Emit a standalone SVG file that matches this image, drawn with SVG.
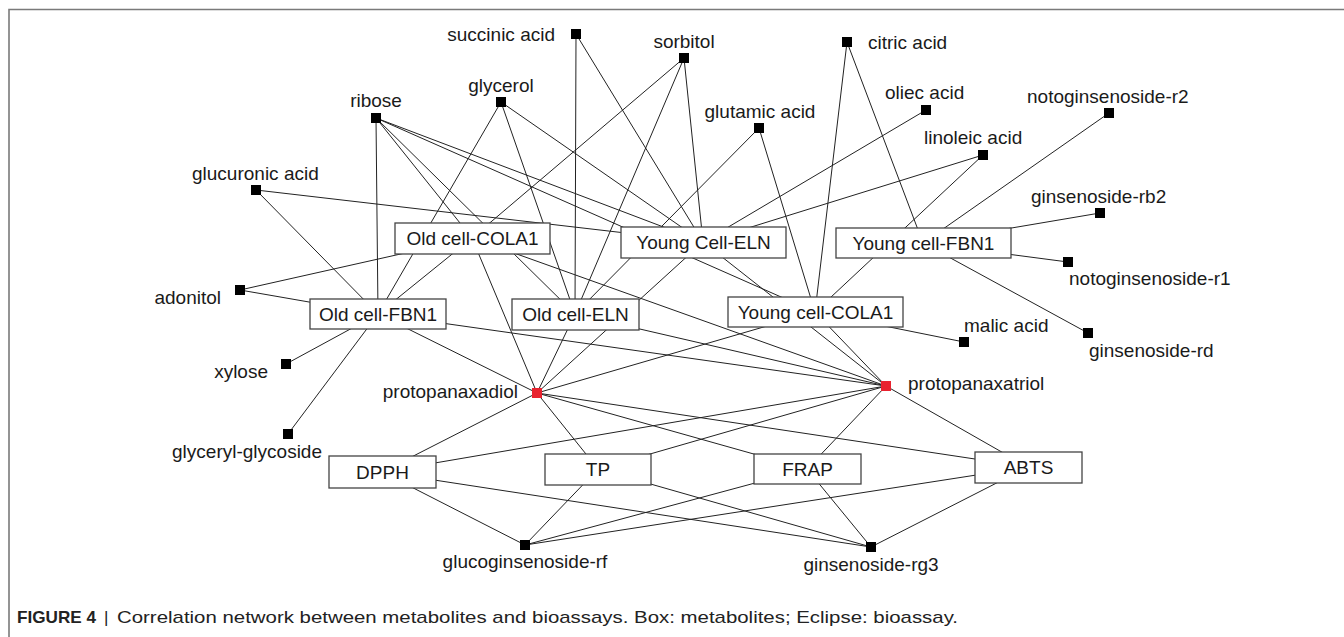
<svg xmlns="http://www.w3.org/2000/svg" width="1344" height="637" viewBox="0 0 1344 637">
<style>
.lbl{font-family:"Liberation Sans",Arial,sans-serif;font-size:19px;fill:#1a1a1a}
.box{fill:#fff;stroke:#444;stroke-width:1.3}
.sq{fill:#000}
.red{fill:#e8232f}
.edges line{stroke:#222;stroke-width:1}
.frame{stroke:#7a7a7a;stroke-width:1.6;fill:none}
.cap{font-family:"Liberation Sans",Arial,sans-serif;font-size:17px;fill:#222}
</style>
<rect width="1344" height="637" fill="#fff"/>
<path class="frame" d="M9,637 V9.5 H1344"/>
<g id="connectors" class="edges">
<line x1="576" y1="34" x2="575" y2="314"/>
<line x1="576" y1="34" x2="703" y2="242"/>
<line x1="684" y1="58" x2="472" y2="238"/>
<line x1="684" y1="58" x2="575" y2="314"/>
<line x1="684" y1="58" x2="703" y2="242"/>
<line x1="847" y1="42" x2="815" y2="312"/>
<line x1="847" y1="42" x2="923" y2="243"/>
<line x1="501" y1="102" x2="378" y2="314"/>
<line x1="501" y1="102" x2="575" y2="314"/>
<line x1="501" y1="102" x2="703" y2="242"/>
<line x1="376" y1="118" x2="378" y2="314"/>
<line x1="376" y1="118" x2="472" y2="238"/>
<line x1="376" y1="118" x2="575" y2="314"/>
<line x1="376" y1="118" x2="703" y2="242"/>
<line x1="376" y1="118" x2="815" y2="312"/>
<line x1="759" y1="128" x2="575" y2="314"/>
<line x1="759" y1="128" x2="815" y2="312"/>
<line x1="926" y1="110" x2="703" y2="242"/>
<line x1="1109" y1="113" x2="923" y2="243"/>
<line x1="983" y1="155" x2="703" y2="242"/>
<line x1="983" y1="155" x2="815" y2="312"/>
<line x1="256" y1="190" x2="378" y2="314"/>
<line x1="256" y1="190" x2="703" y2="242"/>
<line x1="1100" y1="213" x2="923" y2="243"/>
<line x1="1068" y1="262" x2="923" y2="243"/>
<line x1="1088" y1="333" x2="923" y2="243"/>
<line x1="240" y1="290" x2="472" y2="238"/>
<line x1="240" y1="290" x2="378" y2="314"/>
<line x1="964" y1="342" x2="815" y2="312"/>
<line x1="286" y1="364" x2="378" y2="314"/>
<line x1="288" y1="434" x2="378" y2="314"/>
<line x1="472" y1="238" x2="378" y2="314"/>
<line x1="472" y1="238" x2="537" y2="393"/>
<line x1="472" y1="238" x2="886" y2="386"/>
<line x1="378" y1="314" x2="537" y2="393"/>
<line x1="378" y1="314" x2="886" y2="386"/>
<line x1="575" y1="314" x2="537" y2="393"/>
<line x1="575" y1="314" x2="886" y2="386"/>
<line x1="703" y1="242" x2="537" y2="393"/>
<line x1="703" y1="242" x2="886" y2="386"/>
<line x1="815" y1="312" x2="537" y2="393"/>
<line x1="815" y1="312" x2="886" y2="386"/>
<line x1="537" y1="393" x2="382" y2="472"/>
<line x1="537" y1="393" x2="598" y2="469"/>
<line x1="537" y1="393" x2="807" y2="469"/>
<line x1="537" y1="393" x2="1028" y2="467"/>
<line x1="886" y1="386" x2="382" y2="472"/>
<line x1="886" y1="386" x2="598" y2="469"/>
<line x1="886" y1="386" x2="807" y2="469"/>
<line x1="886" y1="386" x2="1028" y2="467"/>
<line x1="525" y1="545" x2="382" y2="472"/>
<line x1="525" y1="545" x2="598" y2="469"/>
<line x1="525" y1="545" x2="807" y2="469"/>
<line x1="525" y1="545" x2="1028" y2="467"/>
<line x1="871" y1="547" x2="382" y2="472"/>
<line x1="871" y1="547" x2="598" y2="469"/>
<line x1="871" y1="547" x2="807" y2="469"/>
<line x1="871" y1="547" x2="1028" y2="467"/>
</g>

<g id="old-cell-cola1"><rect class="box" x="395" y="223" width="155" height="31"/><text class="lbl" x="472.5" y="245" text-anchor="middle">Old cell-COLA1</text></g>
<g id="old-cell-fbn1"><rect class="box" x="310" y="299" width="136" height="30"/><text class="lbl" x="378" y="321" text-anchor="middle">Old cell-FBN1</text></g>
<g id="old-cell-eln"><rect class="box" x="512" y="299" width="127" height="31"/><text class="lbl" x="575.5" y="321" text-anchor="middle">Old cell-ELN</text></g>
<g id="young-cell-eln"><rect class="box" x="621" y="227" width="165" height="31"/><text class="lbl" x="703.5" y="249" text-anchor="middle">Young Cell-ELN</text></g>
<g id="young-cell-fbn1"><rect class="box" x="836" y="228" width="175" height="30"/><text class="lbl" x="923.5" y="250" text-anchor="middle">Young cell-FBN1</text></g>
<g id="young-cell-cola1"><rect class="box" x="728" y="297" width="175" height="30"/><text class="lbl" x="815.5" y="319" text-anchor="middle">Young cell-COLA1</text></g>
<g id="dpph"><rect class="box" x="329" y="456" width="107" height="32"/><text class="lbl" x="382.5" y="479" text-anchor="middle">DPPH</text></g>
<g id="tp"><rect class="box" x="545" y="454" width="106" height="31"/><text class="lbl" x="598" y="476" text-anchor="middle">TP</text></g>
<g id="frap"><rect class="box" x="754" y="454" width="107" height="30"/><text class="lbl" x="807.5" y="476" text-anchor="middle">FRAP</text></g>
<g id="abts"><rect class="box" x="975" y="452" width="107" height="31"/><text class="lbl" x="1028.5" y="474" text-anchor="middle">ABTS</text></g>

<g id="succinic-acid"><rect class="sq" x="571" y="29" width="10" height="10"/><text class="lbl" x="555" y="41" text-anchor="end">succinic acid</text></g>
<g id="sorbitol"><rect class="sq" x="679" y="53" width="10" height="10"/><text class="lbl" x="684" y="48" text-anchor="middle">sorbitol</text></g>
<g id="citric-acid"><rect class="sq" x="842" y="37" width="10" height="10"/><text class="lbl" x="868" y="49">citric acid</text></g>
<g id="glycerol"><rect class="sq" x="496" y="97" width="10" height="10"/><text class="lbl" x="501" y="92" text-anchor="middle">glycerol</text></g>
<g id="ribose"><rect class="sq" x="371" y="113" width="10" height="10"/><text class="lbl" x="376" y="107" text-anchor="middle">ribose</text></g>
<g id="glutamic-acid"><rect class="sq" x="754" y="123" width="10" height="10"/><text class="lbl" x="760" y="118" text-anchor="middle">glutamic acid</text></g>
<g id="oliec-acid"><rect class="sq" x="921" y="105" width="10" height="10"/><text class="lbl" x="885" y="99">oliec acid</text></g>
<g id="notoginsenoside-r2"><rect class="sq" x="1104" y="108" width="10" height="10"/><text class="lbl" x="1027" y="103">notoginsenoside-r2</text></g>
<g id="linoleic-acid"><rect class="sq" x="978" y="150" width="10" height="10"/><text class="lbl" x="924" y="144">linoleic acid</text></g>
<g id="glucuronic-acid"><rect class="sq" x="251" y="185" width="10" height="10"/><text class="lbl" x="192" y="180">glucuronic acid</text></g>
<g id="ginsenoside-rb2"><rect class="sq" x="1095" y="208" width="10" height="10"/><text class="lbl" x="1031" y="203">ginsenoside-rb2</text></g>
<g id="notoginsenoside-r1"><rect class="sq" x="1063" y="257" width="10" height="10"/><text class="lbl" x="1069" y="285">notoginsenoside-r1</text></g>
<g id="adonitol"><rect class="sq" x="235" y="285" width="10" height="10"/><text class="lbl" x="221" y="304" text-anchor="end">adonitol</text></g>
<g id="malic-acid"><rect class="sq" x="959" y="337" width="10" height="10"/><text class="lbl" x="964" y="332">malic acid</text></g>
<g id="ginsenoside-rd"><rect class="sq" x="1083" y="328" width="10" height="10"/><text class="lbl" x="1089" y="357">ginsenoside-rd</text></g>
<g id="xylose"><rect class="sq" x="281" y="359" width="10" height="10"/><text class="lbl" x="268" y="378" text-anchor="end">xylose</text></g>
<g id="glyceryl-glycoside"><rect class="sq" x="283" y="429" width="10" height="10"/><text class="lbl" x="322" y="458" text-anchor="end">glyceryl-glycoside</text></g>
<g id="protopanaxadiol"><rect class="red" x="532" y="388" width="10" height="10"/><text class="lbl" x="518" y="398" text-anchor="end">protopanaxadiol</text></g>
<g id="protopanaxatriol"><rect class="red" x="881" y="381" width="10" height="10"/><text class="lbl" x="908" y="390">protopanaxatriol</text></g>
<g id="glucoginsenoside-rf"><rect class="sq" x="520" y="540" width="10" height="10"/><text class="lbl" x="525" y="568" text-anchor="middle">glucoginsenoside-rf</text></g>
<g id="ginsenoside-rg3"><rect class="sq" x="866" y="542" width="10" height="10"/><text class="lbl" x="871" y="571" text-anchor="middle">ginsenoside-rg3</text></g>

<g id="caption">
<text class="cap" x="17" y="623" font-weight="bold" textLength="79" lengthAdjust="spacingAndGlyphs">FIGURE 4</text>
<text class="cap" x="104" y="623">|</text>
<text class="cap" x="117" y="623" textLength="841" lengthAdjust="spacingAndGlyphs">Correlation network between metabolites and bioassays. Box: metabolites; Eclipse: bioassay.</text>
</g>
</svg>
